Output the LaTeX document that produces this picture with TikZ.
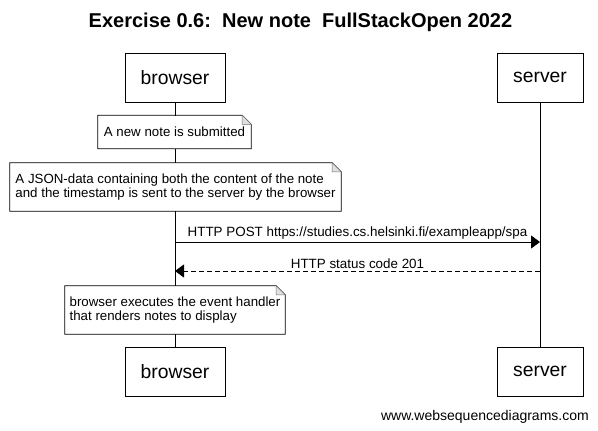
\documentclass[tikz,border=0pt]{standalone}
\usepackage{fontspec}
\setmainfont{Liberation Sans}
\usetikzlibrary{arrows.meta,calc}
\tikzset{
  actor/.style={draw, line width=0.9pt, minimum height=49pt, inner sep=0pt,
                font=\fontsize{19.3}{22}\selectfont},
  life/.style={line width=0.9pt},
  note/.style={fill=white, inner xsep=3pt, inner ysep=0pt, align=left,
               font=\fontsize{13.3}{14.5}\selectfont},
  dogear/.style={line width=0.8pt},
  fold/.style={line width=0.5pt, draw=black!55, fill=black!12},
  msg/.style={line width=0.9pt, -{Triangle[length=9pt, width=13pt]}},
  reply/.style={msg, dash pattern=on 5pt off 3pt},
  mlbl/.style={font=\fontsize{13.4}{15}\selectfont, inner sep=2pt},
  ttl/.style={font=\fontsize{20}{24}\selectfont\bfseries},
  credit/.style={font=\fontsize{14}{16}\selectfont, inner sep=0pt}
}
\newcommand{\notebox}[1]{%
  \draw[dogear] (#1.south west) |- ($(#1.north east)+(-9,0)$)
    -- ($(#1.north east)+(0,9)$) |- cycle;
  \draw[fold] ($(#1.north east)+(-9,0)$) |- ($(#1.north east)+(0,9)$) -- cycle;}
\begin{document}
\begin{tikzpicture}[x=1pt, y=-1pt]
\useasboundingbox[fill=white] (0,0) rectangle (598,431);
\node[ttl] (title) at (300.5,22) {Exercise 0.6:\ \ New note\ \ FullStackOpen 2022};
% participants
\node[actor, minimum width=100pt] (bTop) at (175,77.5) {browser};
\node[actor, minimum width=86pt] (sTop) at (540,77.5) {server};
\node[actor, minimum width=100pt] (bBot) at (175,371.5) {browser};
\node[actor, minimum width=86pt] (sBot) at (540,371.5) {server};
\draw[life] (bTop) -- (bBot);
\draw[life] (sTop) -- (sBot);
% notes
\node[note, minimum width=153pt, minimum height=33pt] (n1) at (174.5,132) {A new note is submitted};
\notebox{n1}
\node[note, minimum width=331pt, minimum height=48pt] (n2) at (175.5,187)
  {A JSON-data containing both the content of the note\\and the timestamp is sent to the server by the browser};
\notebox{n2}
\node[note, minimum width=220pt, minimum height=48pt] (n3) at (175,310)
  {browser executes the event handler\\that renders notes to display};
\notebox{n3}
% messages
\coordinate (postB) at (175,242);
\coordinate (postS) at (540,242);
\draw[msg] (postB) -- node[mlbl, above] {HTTP POST https://studies.cs.helsinki.fi/exampleapp/spa} (postS);
\coordinate (okS) at (540,271);
\coordinate (okB) at (175,271);
\draw[reply] (okS) -- node[mlbl, above] {HTTP status code 201} (okB);
\node[credit, anchor=base east] (site) at (589,420) {www.websequencediagrams.com};
\end{tikzpicture}
\end{document}
